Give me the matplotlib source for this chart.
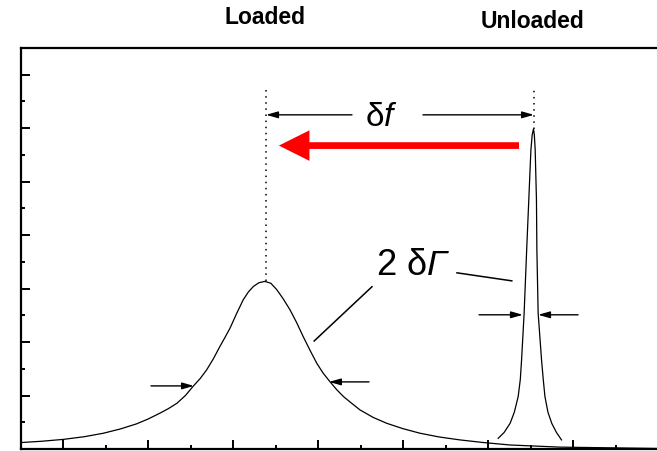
import matplotlib
matplotlib.use("Agg")
import matplotlib.pyplot as plt

plt.rcParams['font.family'] = ['Liberation Sans', 'DejaVu Sans']
plt.rcParams['mathtext.fontset'] = 'custom'
plt.rcParams['mathtext.rm'] = 'Liberation Sans'
plt.rcParams['mathtext.it'] = 'Liberation Sans:italic'
plt.rcParams['mathtext.sf'] = 'Liberation Sans:italic'

# broad (loaded) resonance
loaded_x = [0.0, 0.5, 1.01, 1.5, 1.95, 2.35, 2.73, 3.0, 3.28, 3.48, 3.68, 3.88,
            4.07, 4.23, 4.38, 4.54, 4.69, 4.81, 4.93, 5.08, 5.24, 5.36, 5.48, 5.61,
            5.75, 5.89, 6.03, 6.18, 6.34, 6.50, 6.65, 6.81, 6.97, 7.12, 7.28, 7.44,
            7.60, 7.80, 7.99, 8.30, 8.62, 9.0, 9.40, 9.85, 10.34, 10.9, 11.52, 12.69, 15.0]
loaded_y = [0.24, 0.29, 0.36, 0.46, 0.59, 0.75, 0.94, 1.12, 1.34, 1.51, 1.71, 2.0,
            2.36, 2.64, 2.96, 3.38, 3.83, 4.17, 4.52, 5.05, 5.58, 5.87, 6.08, 6.22,
            6.27, 6.20, 5.96, 5.62, 5.21, 4.72, 4.21, 3.70, 3.21, 2.84, 2.52, 2.22,
            1.96, 1.70, 1.46, 1.18, 0.96, 0.76, 0.59, 0.45, 0.34, 0.24, 0.15, 0.07, 0.02]

# narrow (unloaded) resonance
unloaded_x = [11.24, 11.38, 11.52, 11.62, 11.71, 11.76, 11.79, 11.85, 11.91, 11.96,
              12.01, 12.04, 12.07, 12.09, 12.11, 12.14, 12.15, 12.18, 12.26, 12.30,
              12.34, 12.41, 12.50, 12.61, 12.73]
unloaded_y = [0.40, 0.62, 0.96, 1.38, 1.96, 2.60, 3.33, 5.08, 7.45, 9.33,
              11.20, 11.75, 11.97, 11.75, 11.20, 9.33, 7.45, 5.08, 3.33, 2.60,
              1.96, 1.38, 0.96, 0.62, 0.34]

f_loaded, f_unloaded = 5.78, 12.08
peak_labels = ["Loaded", "Unloaded"]

fig = plt.figure(figsize=(6.57, 4.51), dpi=100)
ax = fig.add_axes([20.5 / 657, 2 / 451, 637.5 / 657, 401 / 451])
ax.set_xlim(0, 15)
ax.set_ylim(0, 15)

ax.plot(loaded_x, loaded_y, color='black', lw=0.9)
ax.plot(unloaded_x, unloaded_y, color='black', lw=0.9)

# dotted markers of the two centre frequencies
ax.plot([f_loaded, f_loaded], [6.27, 13.5], color='black', lw=1.1, ls=(0, (1, 3)))
ax.plot([f_unloaded, f_unloaded], [11.97, 13.5], color='black', lw=1.1, ls=(0, (1, 3)))

# delta f double arrow
thin = dict(arrowstyle='-|>,head_length=0.7,head_width=0.2', color='black', lw=1.0,
            shrinkA=0, shrinkB=0)
ax.annotate('', xy=(f_loaded, 12.5), xytext=(7.8, 12.5), arrowprops=thin)
ax.annotate('', xy=(f_unloaded, 12.5), xytext=(9.47, 12.5), arrowprops=thin)
ax.text(8.5, 12.4, r'$\mathrm{\delta}f$', fontsize=24, ha='center', va='center')

# red shift arrow
ax.annotate('', xy=(6.08, 11.35), xytext=(11.73, 11.35),
            arrowprops=dict(arrowstyle='simple,head_length=1.0,head_width=1.0,tail_width=0.22',
                            color='#ff0000', lw=0, shrinkA=0, shrinkB=0,
                            mutation_scale=22))

# width arrows
ax.annotate('', xy=(4.08, 2.36), xytext=(3.07, 2.36), arrowprops=thin)
ax.annotate('', xy=(7.26, 2.51), xytext=(8.2, 2.51), arrowprops=thin)
ax.annotate('', xy=(11.82, 5.02), xytext=(10.79, 5.02), arrowprops=thin)
ax.annotate('', xy=(12.18, 5.02), xytext=(13.12, 5.02), arrowprops=thin)

# 2 delta Gamma label with leader lines
ax.text(9.24, 6.85, r'$2\ \mathrm{\delta}\mathsf{\Gamma}$', fontsize=26, ha='center', va='center')
ax.plot([8.27, 6.91], [6.07, 4.04], color='black', lw=1.1)
ax.plot([10.27, 11.56], [6.59, 6.29], color='black', lw=1.1)

for lab, xf in zip(peak_labels, [265, 533]):
    fig.text(xf / 657, 1 - (18 if lab == "Loaded" else 21) / 451, lab,
             fontsize=16.5, fontweight='bold', ha='center', va='center')

ax.set_xticks([1, 3, 5, 7, 9, 11, 13])
ax.set_xticks([2, 4, 6, 8, 10, 12, 14], minor=True)
ax.set_yticks([2, 4, 6, 8, 10, 12, 14])
ax.set_yticks([1, 3, 5, 7, 9, 11, 13], minor=True)
ax.tick_params(which='both', direction='in', labelbottom=False, labelleft=False, width=1.4)
ax.tick_params(which='major', length=6.5)
ax.tick_params(which='minor', length=3.2)
ax.spines['right'].set_visible(False)
for s in ['top', 'left', 'bottom']:
    ax.spines[s].set_linewidth(1.6)

fig.savefig('out.png', dpi=100)
